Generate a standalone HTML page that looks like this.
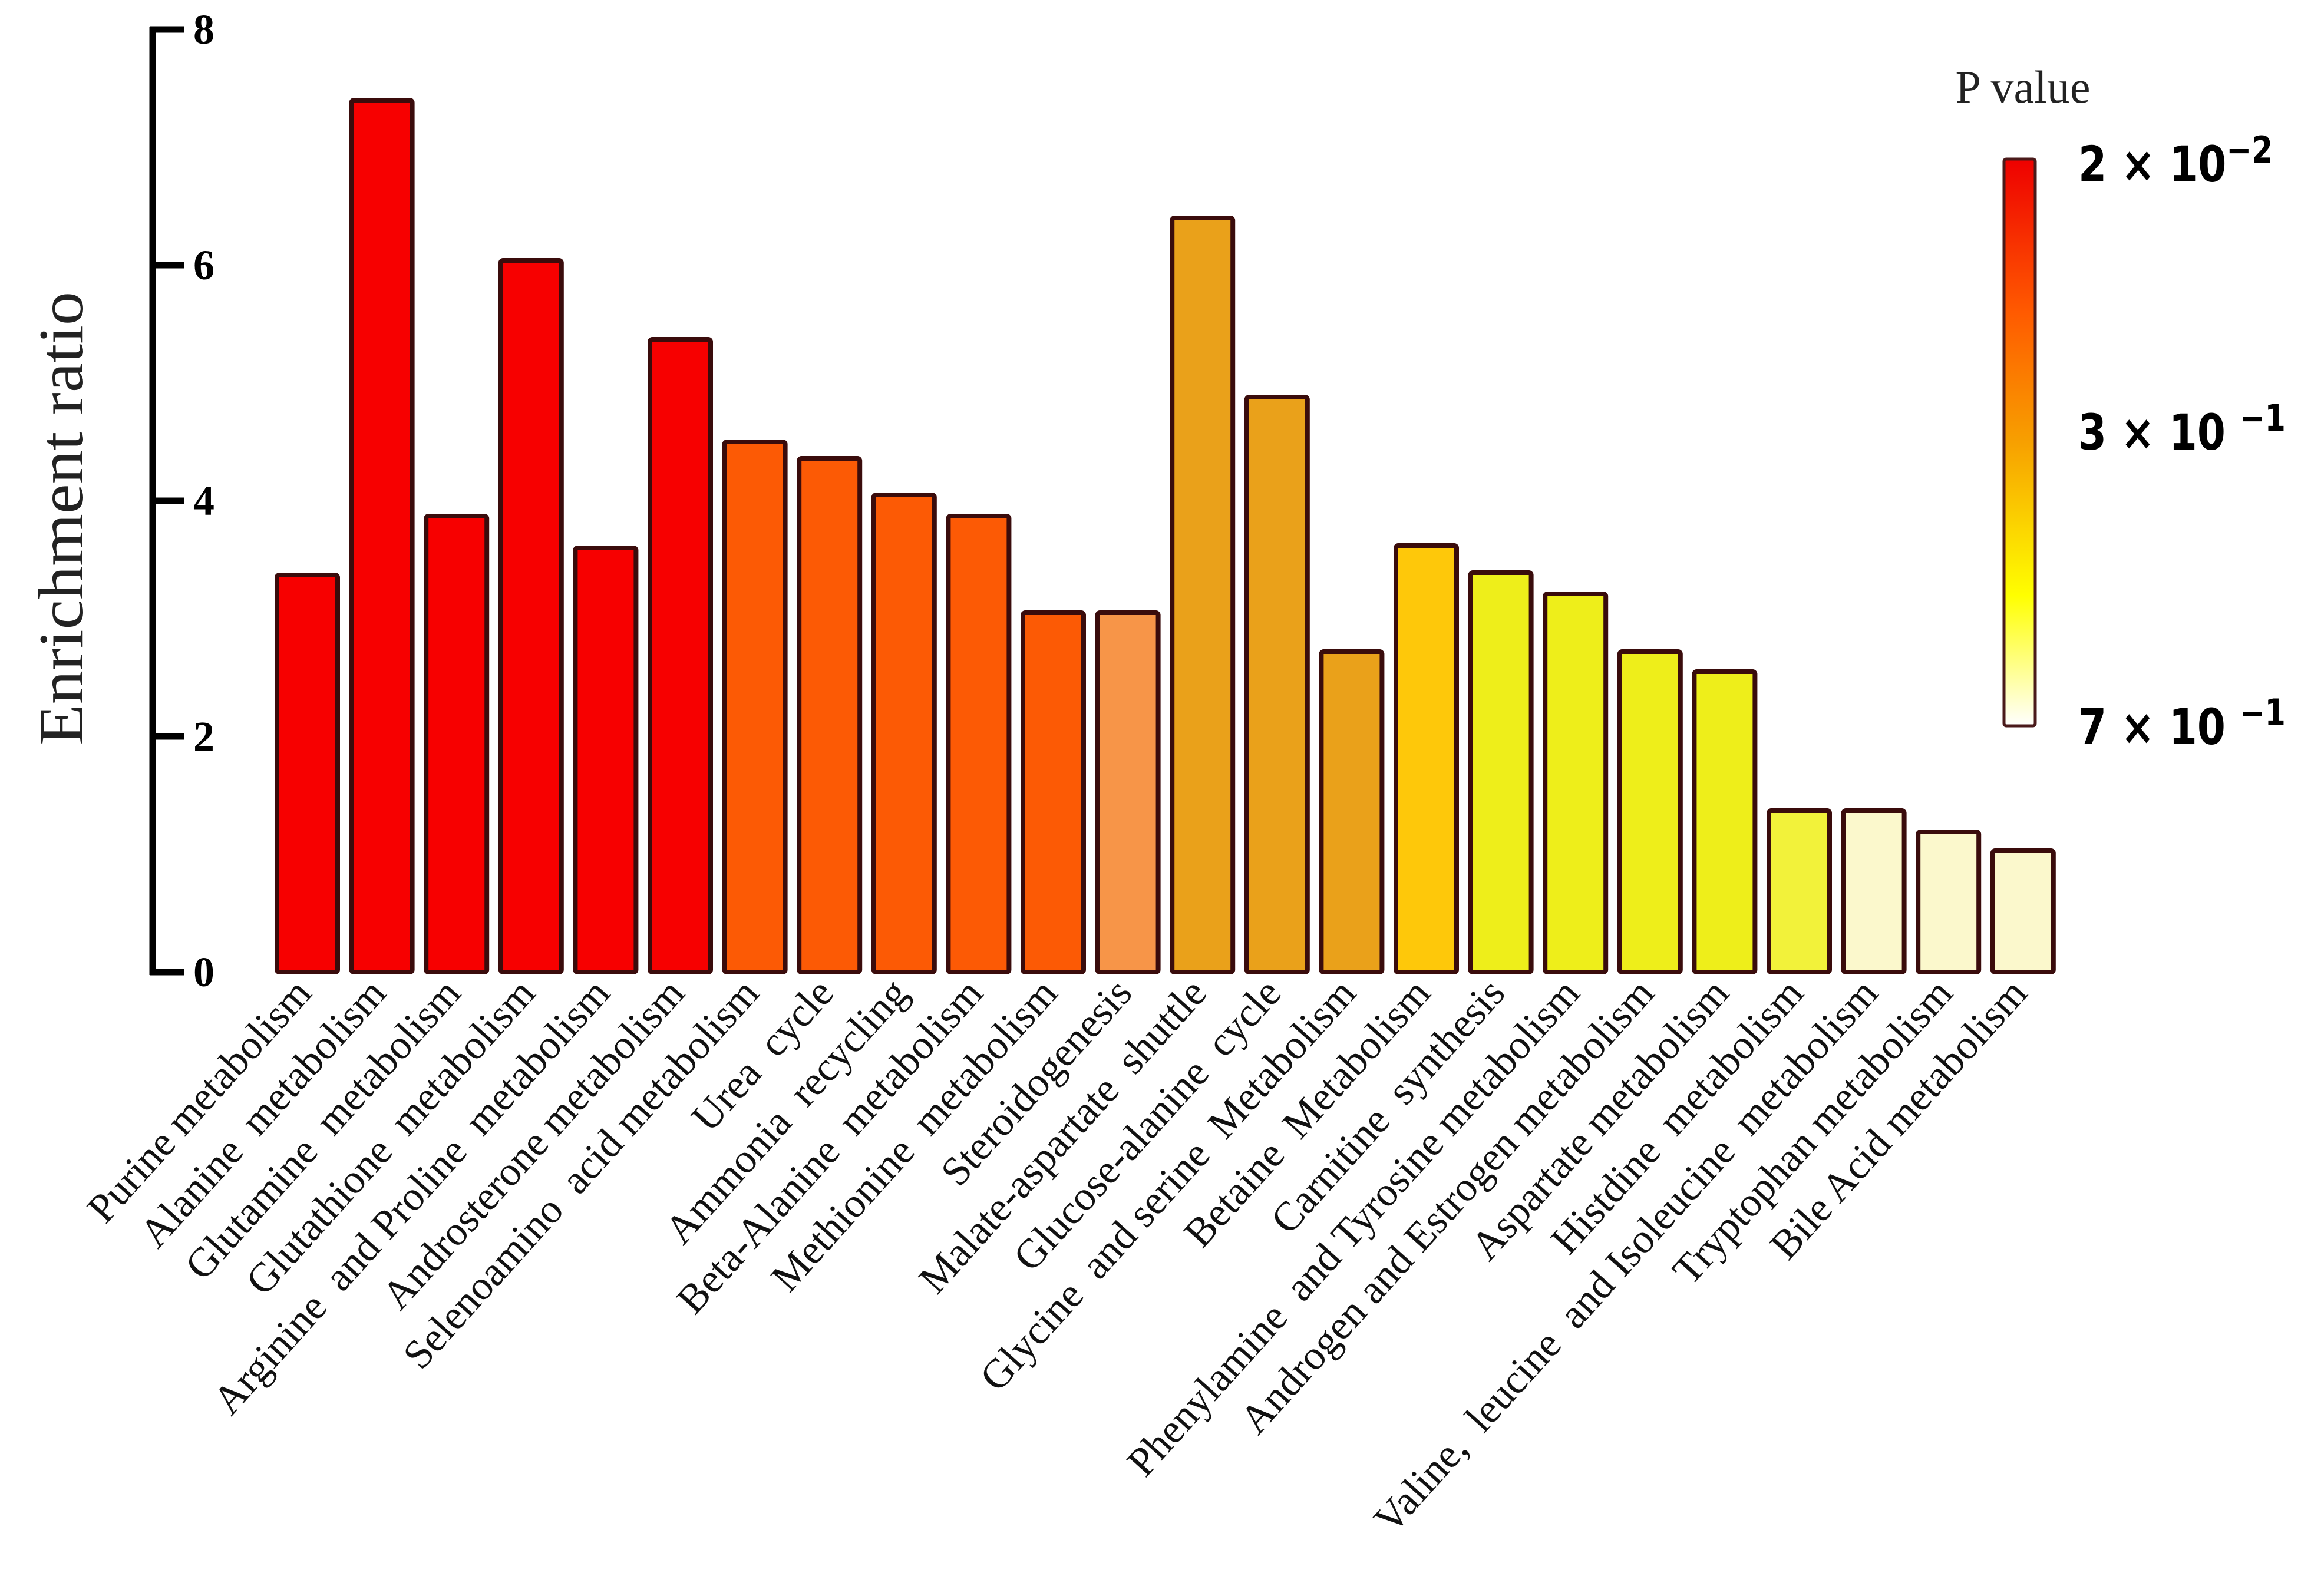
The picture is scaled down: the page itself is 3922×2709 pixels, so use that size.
<!DOCTYPE html>
<html><head><meta charset="utf-8">
<style>
html,body{margin:0;padding:0;background:#fff;}
svg{display:block;}
.lab{font-family:"Liberation Serif",serif;font-size:70px;fill:#111;}
.tick{font-family:"Liberation Serif",serif;font-size:72px;font-weight:bold;fill:#000;}
.cb{font-family:"DejaVu Sans","Liberation Sans",sans-serif;font-size:84px;font-weight:bold;fill:#000;}
</style></head>
<body>
<svg id="chart" width="3922" height="2709" viewBox="0 0 3922 2709" xmlns="http://www.w3.org/2000/svg">
<defs>
<linearGradient id="pgrad" x1="0" y1="0" x2="0" y2="1">
<stop offset="0" stop-color="#ee0000"/>
<stop offset="0.27" stop-color="#ff5a00"/>
<stop offset="0.5" stop-color="#f7a000"/>
<stop offset="0.77" stop-color="#ffff00"/>
<stop offset="1" stop-color="#ffffff"/>
</linearGradient>
</defs>
<g id="axis"></g>
<g id="bars"></g>
<g id="labels"></g>
<text x="0" y="0" transform="translate(140,880) rotate(-90)" text-anchor="middle" font-family="Liberation Serif, serif" font-size="108" fill="#222" textLength="770" lengthAdjust="spacingAndGlyphs">Enrichment ratio</text>
<g>
<text x="3433" y="174" text-anchor="middle" font-family="Liberation Serif, serif" font-size="78" fill="#222">P value</text>
<rect x="3401" y="270" width="53" height="962" rx="4" fill="url(#pgrad)" stroke="#4a1a1a" stroke-width="5"/>
<text class="cb" x="3527" y="308" textLength="330" lengthAdjust="spacingAndGlyphs">2 × 10<tspan dy="-32" font-size="62">−2</tspan></text>
<text class="cb" x="3527" y="763" textLength="352" lengthAdjust="spacingAndGlyphs">3 × 10 <tspan dy="-32" font-size="62">−1</tspan></text>
<text class="cb" x="3527" y="1263" textLength="352" lengthAdjust="spacingAndGlyphs">7 × 10 <tspan dy="-32" font-size="62">−1</tspan></text>
</g>
</svg>
<script>
const categories = ["Purine metabolism","Alanine  metabolism","Glutamine  metabolism","Glutathione  metabolism","Arginine  and Proline  metabolism","Androsterone metabolism","Selenoamino  acid metabolism","Urea  cycle","Ammonia  recycling","Beta-Alanine  metabolism","Methionine  metabolism","Steroidogenesis","Malate-aspartate  shuttle","Glucose-alanine  cycle","Glycine  and serine  Metabolism","Betaine  Metabolism","Carnitine  synthesis","Phenylamine  and Tyrosine metabolism","Androgen and Estrogen metabolism","Aspartate metabolism","Histdine  metabolism","Valine,  leucine  and Isoleucine  metabolism","Tryptophan metabolism","Bile Acid metabolism"];
const values = [3.37,7.4,3.87,6.04,3.6,5.37,4.5,4.36,4.05,3.87,3.05,3.05,6.4,4.88,2.72,3.62,3.39,3.21,2.72,2.55,1.37,1.37,1.19,1.03];
const fills = ["#f70000","#f70000","#f70000","#f70000","#f70000","#f70000","#fc5a05","#fc5a05","#fc5a05","#fc5a05","#fc5a05","#f79548","#eaa11a","#eaa11a","#eaa11a","#fec80a","#eeee1a","#eeee1a","#eeee1a","#eeee1a","#f2f23a","#fbf8cc","#fbf8cc","#fbf8cc"];
const yTicks = [0,2,4,6,8];

const NS="http://www.w3.org/2000/svg";
const y0=1650, pxPer=200;
function yScale(v){return y0 - v*pxPer;}
const bx0=470, pitch=126.6, bw=103;
function xScale(i){return bx0 + i*pitch;}
function mk(tag, attrs, parent){const e=document.createElementNS(NS,tag);for(const k in attrs)e.setAttribute(k,attrs[k]);parent.appendChild(e);return e;}

const axis=document.getElementById('axis');
const line=mk('line',{x1:259,y1:yScale(8)-5,x2:259,y2:yScale(0)+5,stroke:'#000','stroke-width':11},axis);


yTicks.forEach(t=>{
  const tk=mk('line',{x1:254,y1:yScale(t),x2:312,y2:yScale(t),stroke:'#000','stroke-width':11},axis);
  
  
  const tl=mk('text',{x:328,y:yScale(t)+24,class:'tick'},axis);
  
  
  tl.textContent=t;
});

const bars=document.getElementById('bars');
const labels=document.getElementById('labels');
values.forEach((v,i)=>{
  const x=xScale(i), top=yScale(v);
  const r=mk('rect',{x:x,y:top,width:bw,height:y0-top,rx:4,fill:fills[i],stroke:'#3a0c0c','stroke-width':8},bars);
  
  
  const cx=x+bw/2+10, cy=1688;
  const t=mk('text',{x:0,y:0,class:'lab','text-anchor':'end',transform:'translate('+cx+','+cy+') rotate(-48)'},labels);
  
  
  t.style.whiteSpace='pre';
  t.textContent=categories[i];
});
</script>
</body></html>
